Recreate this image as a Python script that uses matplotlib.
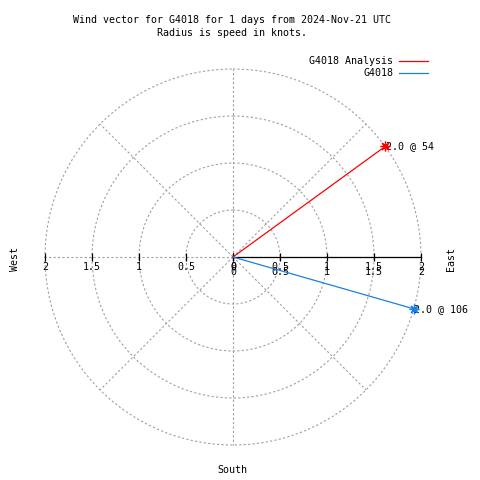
import numpy as np
import matplotlib
matplotlib.use("Agg")
import matplotlib.pyplot as plt

# wind vectors: (label, speed in knots, direction in degrees, colour)
names = ["G4018 Analysis", "G4018"]
speeds = [2.0, 2.0]
directions = [54, 106]
colors = ["#ff0000", "#1a80e6"]

rings = [0.5, 1, 1.5, 2]
tick_labels = ["0", "0.5", "1", "1.5", "2"]
tick_vals = [0, 0.5, 1, 1.5, 2]

plt.rcParams["font.family"] = ["DejaVu Sans Mono"]
fs = 7.2
W = H = 480

def fx(x):
    return x / W

def fy(y):
    return 1 - y / H

fig = plt.figure(figsize=(4.8, 4.8), dpi=100)
cx, cy, R = 233, 257, 188
ax = fig.add_axes([fx(cx - R), fy(cy + R), 2 * R / W, 2 * R / H], projection="polar")
ax.set_theta_zero_location("N")
ax.set_theta_direction(-1)
ax.set_ylim(0, 2)
ax.set_rgrids(rings)
ax.set_thetagrids(np.arange(0, 360, 45))
ax.set_xticklabels([])
ax.set_yticklabels([])
ax.tick_params(length=0)
ax.grid(True, color="#a0a0a0", linestyle=(0, (2, 2)), linewidth=0.8)
for gl in ax.yaxis.get_gridlines() + ax.xaxis.get_gridlines():
    gl.set_clip_on(False)
ax.spines["polar"].set_visible(False)
ax.set_facecolor("none")

# axis along east, solid black with ticks; ticks on west too
east = np.pi / 2
west = 3 * np.pi / 2
ax.plot([east, east], [0, 2], color="black", lw=0.9, clip_on=False, zorder=3)
ax.plot([east] * len(tick_vals), tick_vals, ls="none", marker="|", ms=6,
        mew=0.9, color="black", clip_on=False, zorder=3)
ax.plot([west] * len(tick_vals), tick_vals, ls="none", marker="|", ms=6,
        mew=0.9, color="black", clip_on=False, zorder=3)
for v, t in zip(tick_vals, tick_labels):
    ax.annotate(t, xy=(west, v), xytext=(0, -7.5), textcoords="offset points",
                ha="center", va="center", fontsize=fs, annotation_clip=False)
    ax.annotate(t, xy=(east, v), xytext=(0, -7.5), textcoords="offset points",
                ha="center", va="center", fontsize=fs, annotation_clip=False)
    ax.annotate(t, xy=(east, v), xytext=(0, -10.5), textcoords="offset points",
                ha="center", va="center", fontsize=fs, annotation_clip=False)

# vectors
for n, s, d, c in zip(names, speeds, directions, colors):
    th = np.deg2rad(d)
    ax.plot([th, th], [0, s], color=c, lw=0.9, label=n, clip_on=False, zorder=4)
    ax.plot([th], [s], ls="none", marker=(8, 2, 0), ms=7, mew=0.9, color=c,
            clip_on=False, zorder=4)
    ax.annotate("%.1f @ %d" % (s, d), xy=(th, s), xytext=(0.5, 0),
                textcoords="offset points", ha="left", va="center",
                fontsize=fs, annotation_clip=False)

leg = fig.legend(loc="upper right", bbox_to_anchor=(fx(428), fy(56)),
                 bbox_transform=fig.transFigure, frameon=False, fontsize=fs,
                 markerfirst=False, handlelength=2.9, handletextpad=0.6,
                 labelspacing=0.25, borderpad=0, borderaxespad=0)

fig.text(fx(232), fy(20), "Wind vector for G4018 for 1 days from 2024-Nov-21 UTC",
         ha="center", va="center", fontsize=fs)
fig.text(fx(232), fy(33), "Radius is speed in knots.",
         ha="center", va="center", fontsize=fs)
fig.text(fx(15), fy(259), "West", rotation=90, ha="center", va="center", fontsize=fs)
fig.text(fx(451), fy(259), "East", rotation=90, ha="center", va="center", fontsize=fs)
fig.text(fx(232), fy(470), "South", ha="center", va="center", fontsize=fs)

fig.savefig("out.png", dpi=100)
